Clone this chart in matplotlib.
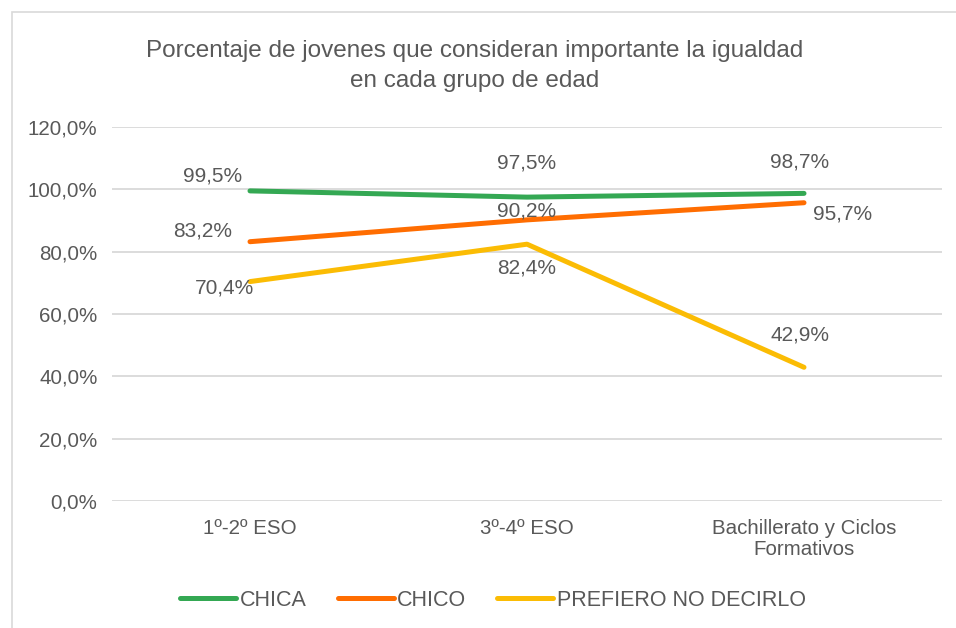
import matplotlib.pyplot as plt
from matplotlib.patches import Rectangle

plt.rcParams["font.family"] = ["Liberation Sans", "DejaVu Sans"]

categories = ["1º-2º ESO", "3º-4º ESO", "Bachillerato y Ciclos\nFormativos"]
chica = [99.5, 97.5, 98.7]
chico = [83.2, 90.2, 95.7]
prefiero = [70.4, 82.4, 42.9]
y_ticks = [0, 20, 40, 60, 80, 100, 120]

series = [
    ("CHICA", chica, "#34a853", [(-37, 15), (0, 34), (-4, 31)]),
    ("CHICO", chico, "#ff6d01", [(-47, 11), (0, 9), (39, -11)]),
    ("PREFIERO NO DECIRLO", prefiero, "#fbbc04", [(-25, -6), (0, -24), (-4, 32)]),
]

text_col = "#595959"
grid_col = "#d9d9d9"

fig = plt.figure(figsize=(9.56, 6.28), dpi=100)
fig.patches.append(Rectangle((12 / 956, -0.01), 1.0, 1 - 12 / 628 + 0.01,
                             transform=fig.transFigure, fill=False,
                             edgecolor=grid_col, linewidth=1.2))
ax = fig.add_axes([111.5 / 956, 1 - 501 / 628, 831 / 956, 374 / 628])

x = list(range(len(categories)))
for name, vals, col, offs in series:
    ax.plot(x, vals, color=col, linewidth=3.6, solid_capstyle="round",
            solid_joinstyle="round", label=name, zorder=3)
    for xi, v, (dx, dy) in zip(x, vals, offs):
        ax.annotate(f"{v:.1f}%".replace(".", ","), (xi, v), xytext=(dx, dy),
                    textcoords="offset pixels", ha="center", va="center",
                    fontsize=15, color=text_col, zorder=4)

ax.set_xlim(-0.5, 2.5)
ax.set_ylim(0, 120)
ax.set_yticks(y_ticks)
ax.set_yticklabels([f"{t:.1f}%".replace(".", ",") for t in y_ticks])
ax.set_xticks(x)
ax.set_xticklabels(categories, linespacing=1.1)
ax.grid(axis="y", color=grid_col, linewidth=1.3, zorder=0)
ax.tick_params(length=0, labelsize=14.8, labelcolor=text_col)
ax.tick_params(axis="x", pad=13)
ax.tick_params(axis="y", pad=10)
for s in ax.spines.values():
    s.set_visible(False)

fig.text(475 / 956, 1 - 66 / 628,
         "Porcentaje de jovenes que consideran importante la igualdad\nen cada grupo de edad",
         ha="center", va="center", fontsize=17.5, color=text_col, linespacing=1.45)

fig.legend(loc="center", bbox_to_anchor=(493 / 956, 1 - 600 / 628), ncol=3,
           frameon=False, fontsize=15.5, labelcolor=text_col, handlelength=2.6,
           handletextpad=0.15, columnspacing=1.45)

fig.savefig("out.png", dpi=100)
